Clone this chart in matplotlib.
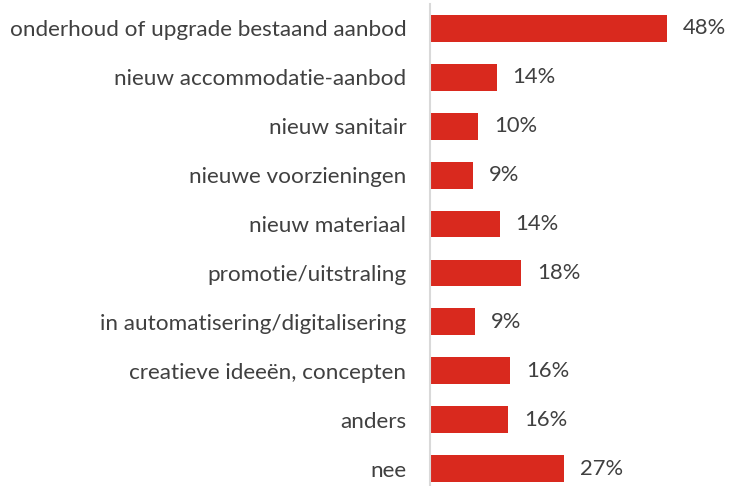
import matplotlib.pyplot as plt

# categories and shares (%)
categories = ['onderhoud of upgrade bestaand aanbod', 'nieuw accommodatie-aanbod', 'nieuw sanitair',
              'nieuwe voorzieningen', 'nieuw materiaal', 'promotie/uitstraling',
              'in automatisering/digitalisering', 'creatieve ideeën, concepten', 'anders', 'nee']
values = [48.0, 13.5, 9.7, 8.7, 14.1, 18.5, 9.1, 16.2, 15.8, 27.2]
labels = ['48%', '14%', '10%', '9%', '14%', '18%', '9%', '16%', '16%', '27%']

plt.rcParams['font.family'] = ['Lato', 'DejaVu Sans']
textColor = '#404040'
barColor = '#D9291E'

W, H = 729, 486
fig = plt.figure(figsize=(W / 100, H / 100), dpi=100)
# axes placed in pixel terms: left edge at x=430, top at y=4, 48.9 px per bar slot
left, top, slot = 430, 4, 48.9
ax = fig.add_axes([left / W, 1 - (top + 10 * slot) / H, (W - left) / W, 10 * slot / H])

pos = list(range(len(categories)))
ax.barh(pos, values, height=0.55, color=barColor)
ax.set_ylim(9.5, -0.5)
ax.set_xlim(0, (W - left) / 4.93)

for p, v, t in zip(pos, values, labels):
    ax.annotate(t, (v, p), xytext=(11.5, 0), textcoords='offset points',
                va='center', ha='left', fontsize=15.8, color=textColor)

ax.set_yticks(pos)
ax.set_yticklabels(categories, fontsize=16.2, color=textColor)
ax.tick_params(axis='y', length=0, pad=17)
ax.set_xticks([])

for s in ['top', 'right', 'bottom']:
    ax.spines[s].set_visible(False)
ax.spines['left'].set_color('#D9D9D9')
ax.spines['left'].set_linewidth(1.5)

fig.savefig('out.png', dpi=100)
